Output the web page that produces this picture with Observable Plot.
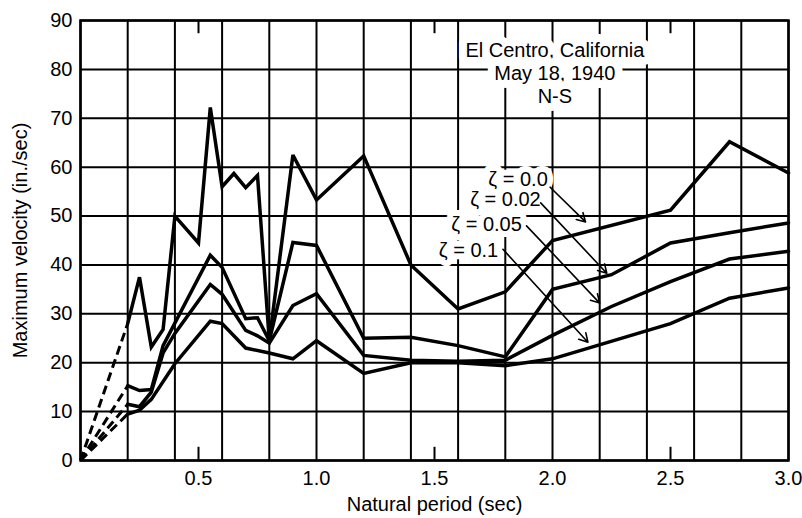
<!DOCTYPE html>
<html>
<head>
<meta charset="utf-8">
<script src="https://cdn.jsdelivr.net/npm/d3@7"></script>
<script src="https://cdn.jsdelivr.net/npm/@observablehq/plot@0.6"></script>
<style>
  html, body { margin: 0; padding: 0; background: #fff; }
</style>
</head>
<body>
<div id="chart"></div>
<script>
// ---- data ----
const seriesNames = ["ζ = 0.0", "ζ = 0.02", "ζ = 0.05", "ζ = 0.1"];

const periodZ0 = [0.2, 0.25, 0.3, 0.35, 0.4, 0.5, 0.55, 0.6, 0.65, 0.7, 0.75, 0.8, 0.9, 1.0, 1.2, 1.4, 1.6, 1.8, 2.0, 2.5, 2.75, 3.0];
const velZ0    = [28, 37.5, 23.2, 26.8, 50, 44.5, 72.2, 56, 58.7, 55.8, 58.3, 24.5, 62.5, 53.3, 62.3, 40, 31, 34.5, 45, 51.2, 65.2, 58.8];

const periodZ02 = [0.2, 0.25, 0.3, 0.35, 0.55, 0.6, 0.7, 0.75, 0.8, 0.9, 1.0, 1.2, 1.4, 1.6, 1.8, 2.0, 2.25, 2.5, 2.75, 3.0];
const velZ02    = [15.3, 14.3, 14.5, 23.5, 42, 39.5, 29, 29.2, 24.5, 44.6, 44, 25, 25.2, 23.5, 21.2, 35, 38, 44.5, 46.6, 48.6];

const periodZ05 = [0.2, 0.25, 0.3, 0.35, 0.4, 0.55, 0.6, 0.7, 0.75, 0.8, 0.9, 1.0, 1.2, 1.4, 1.6, 1.8, 2.0, 2.25, 2.5, 2.75, 3.0];
const velZ05    = [11.5, 11, 14, 22, 26, 36, 34, 26.6, 25.5, 24, 31.7, 34.1, 21.5, 20.5, 20.3, 20.5, 25.6, 31.5, 36.6, 41.2, 42.8];

const periodZ1 = [0.2, 0.25, 0.3, 0.4, 0.55, 0.6, 0.7, 0.8, 0.9, 1.0, 1.2, 1.4, 1.6, 1.8, 2.0, 2.5, 2.75, 3.0];
const velZ1    = [9.5, 10.3, 12.5, 19.8, 28.5, 28, 23, 22, 20.8, 24.5, 17.8, 20, 20, 19.4, 20.8, 28, 33.2, 35.3];

// tick & grid values
const xGrid = [0, 0.2, 0.4, 0.6, 0.8, 1.0, 1.2, 1.4, 1.6, 1.8, 2.0, 2.2, 2.4, 2.6, 2.8, 3.0];
const xTicks = [0.5, 1.0, 1.5, 2.0, 2.5, 3.0];
const xTickLabels = ["0.5", "1.0", "1.5", "2.0", "2.5", "3.0"];
const xMinorTicks = [0.5, 1.5, 2.5];
const yTicks = [0, 10, 20, 30, 40, 50, 60, 70, 80, 90];

// annotations
const titleText = "El Centro, California\nMay 18, 1940\nN-S";
const titlePos = [2.01, 79.4];
const labelX = [1.98, 1.95, 1.87, 1.77];
const labelY = [57.4, 53.3, 48.2, 43.0];
const arrowFromX = [1.99, 1.95, 1.89, 1.79];
const arrowFromY = [55.9, 52.7, 48.0, 43.2];
const arrowToX = [2.14, 2.23, 2.20, 2.15];
const arrowToY = [48.8, 38.3, 32.2, 24.2];

// ---- build tables ----
const allPeriods = [periodZ0, periodZ02, periodZ05, periodZ1];
const allVels = [velZ0, velZ02, velZ05, velZ1];
const rows = [];
allPeriods.forEach((ps, i) => ps.forEach((p, j) => rows.push({series: seriesNames[i], period: p, vel: allVels[i][j]})));
const dashRows = allPeriods.map((ps, i) => ({series: seriesNames[i], period: ps[0], vel: allVels[i][0]}));
const labels = seriesNames.map((s, i) => ({text: s, x: labelX[i], y: labelY[i]}));
const arrows = seriesNames.map((s, i) => ({x1: arrowFromX[i], y1: arrowFromY[i], x2: arrowToX[i], y2: arrowToY[i]}));

const font = "'Liberation Sans', Arial, Helvetica, sans-serif";

const chart = Plot.plot({
  width: 802,
  height: 518,
  marginLeft: 80,
  marginRight: 14,
  marginTop: 20,
  marginBottom: 58,
  x: {domain: [0, 3]},
  y: {domain: [0, 90]},
  style: {fontFamily: font, fontSize: "20px", color: "black", background: "white"},
  marks: [
    Plot.ruleX(xGrid, {stroke: "black", strokeWidth: 2}),
    Plot.ruleY(yTicks, {stroke: "black", strokeWidth: 2}),
    Plot.ruleX(xMinorTicks, {x: d => d, y1: 0, y2: 2.7, stroke: "black", strokeWidth: 2}),
    Plot.ruleX(xMinorTicks, {x: d => d, y1: 87.3, y2: 90, stroke: "black", strokeWidth: 2}),
    Plot.frame({stroke: "black", strokeWidth: 2.5}),
    Plot.axisX({
      ticks: xTicks,
      tickFormat: (d) => xTickLabels[xTicks.indexOf(d)],
      tickSize: 0,
      tickPadding: 10,
      fontSize: 20,
      label: "Natural period (sec)",
      labelAnchor: "center",
      labelArrow: "none",
      labelOffset: 50
    }),
    Plot.axisY({
      ticks: yTicks,
      tickSize: 0,
      tickPadding: 8,
      fontSize: 20,
      label: "Maximum velocity (in./sec)",
      labelAnchor: "center",
      labelArrow: "none",
      labelOffset: 68
    }),
    Plot.text([titleText], {
      x: () => titlePos[0], y: () => titlePos[1], text: d => d,
      fontSize: 20, lineHeight: 1.15, fill: "black",
      stroke: "white", strokeWidth: 16
    }),
    Plot.text(labels, {
      x: "x", y: "y", text: "text", textAnchor: "end",
      fontSize: 20, fill: "black", stroke: "white", strokeWidth: 12
    }),
    Plot.link(dashRows, {
      x1: () => 0, y1: () => 0, x2: "period", y2: "vel",
      stroke: "black", strokeWidth: 3, strokeDasharray: "9,5"
    }),
    Plot.line(rows, {
      x: "period", y: "vel", z: "series",
      stroke: "black", strokeWidth: 3.5, strokeLinejoin: "miter", strokeMiterlimit: 3
    }),
    Plot.arrow(arrows, {
      x1: "x1", y1: "y1", x2: "x2", y2: "y2",
      stroke: "black", strokeWidth: 1.6, headLength: 9, bend: false
    })
  ]
});
document.getElementById("chart").appendChild(chart);
</script>
</body>
</html>
